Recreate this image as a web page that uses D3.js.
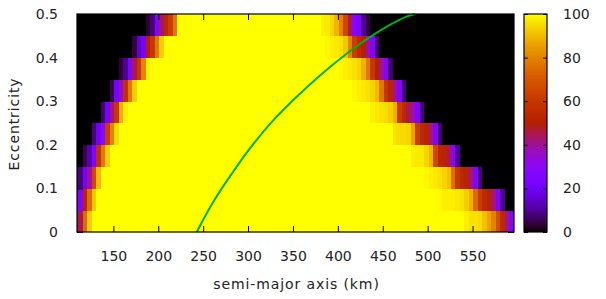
<!DOCTYPE html>
<html>
<head>
<meta charset="utf-8">
<script src="https://cdn.jsdelivr.net/npm/d3@7"></script>
<style>
body { margin: 0; background: #fff; }
svg text { font-family: "DejaVu Sans", sans-serif; font-size: 14px; fill: #222; }
</style>
</head>
<body>
<svg id="chart"></svg>
<script>
// eccentricity rows (lower edge of each band)
var eccRows = [0, 0.05, 0.1, 0.15, 0.2, 0.25, 0.3, 0.35, 0.4, 0.45]
var eccStep = 0.05

// semi-major axis cells, km
var firstEdge = 106
var cellWidth = 5
var cellCount = 98

// per row: where the rising edge starts, its values, where the falling edge ends, its values
var leftStart = [106, 106, 106, 116, 126, 136, 146, 156, 171, 186]
var leftRamp = [
    [45, 45, 75, 93],
    [25, 25, 52, 75, 92],
    [8, 8, 22, 40, 65, 90],
    [5, 12, 25, 58, 78, 93],
    [8, 20, 30, 62, 80, 95],
    [7, 22, 42, 60, 88, 98],
    [5, 22, 35, 58, 78, 93],
    [4, 10, 25, 45, 60, 80, 98],
    [4, 15, 22, 50, 60, 78, 93],
    [3, 8, 25, 43, 55, 62, 78]
]
var rightEnd = [596, 586, 561, 536, 516, 496, 476, 461, 446, 436]
var rightRamp = [
    [98, 96, 96, 95, 91, 86, 80, 68, 55, 42, 25],
    [99, 98, 98, 98, 97, 96, 93, 88, 75, 62, 55, 52, 42, 25, 10],
    [99, 98, 97, 96, 94, 91, 76, 60, 54, 52, 42, 25, 8],
    [98, 97, 97, 94, 89, 65, 53, 52, 45, 27, 10],
    [96, 95, 95, 94, 86, 62, 55, 52, 42, 25, 7],
    [98, 97, 96, 95, 93, 88, 62, 55, 45, 38, 25, 8],
    [99, 98, 97, 96, 94, 90, 78, 60, 53, 40, 25, 8],
    [99, 98, 97, 96, 94, 88, 78, 60, 50, 40, 25, 7],
    [99, 98, 97, 96, 92, 80, 62, 55, 50, 38, 26, 7],
    [98, 97, 94, 89, 80, 65, 45, 27, 24, 10, 4]
]

// green curve
var curveA = [243, 250, 261, 272, 284, 297, 313, 328, 347, 365.5, 384, 403, 421, 439.5, 458, 476.5, 486]
var curveE = [0, 0.028, 0.068, 0.104, 0.140, 0.178, 0.220, 0.256, 0.296, 0.332, 0.366, 0.398, 0.426, 0.452, 0.475, 0.494, 0.5]

var xTicks = [150, 200, 250, 300, 350, 400, 450, 500, 550]
var yTicks = [0, 0.1, 0.2, 0.3, 0.4, 0.5]
var cbTicks = [0, 20, 40, 60, 80, 100]

var screen = {width: 606, height: 299}
var plot = {left: 77, right: 514, top: 14, bottom: 232}
var bar = {left: 524, right: 547}

// gnuplot default palette (rgbformulae 7,5,15)
var palette = function(v)
{
    var t = Math.max(0, Math.min(1, v / 100))
    return d3.rgb(255 * Math.sqrt(t), 255 * t * t * t, 255 * Math.max(0, Math.sin(2 * Math.PI * t))).toString()
}

var buildRow = function(i)
{
    var ls = (leftStart[i] - firstEdge) / cellWidth
    var re = (rightEnd[i] - firstEdge) / cellWidth
    var rs = re - rightRamp[i].length
    var cells = []
    for (var j = 0; j < cellCount; j++)
    {
        var v = 100
        if (j < ls || j >= re) { v = 0 }
        else if (j < ls + leftRamp[i].length) { v = leftRamp[i][j - ls] }
        else if (j >= rs) { v = rightRamp[i][j - rs] }
        cells.push({a0: firstEdge + j * cellWidth, e0: eccRows[i], v: v})
    }
    return cells
}

var cells = []
eccRows.forEach(function(e, i) { cells = cells.concat(buildRow(i)) })

var svg = d3.select("#chart")
    .attr("width", screen.width)
    .attr("height", screen.height)

var xscale = d3.scaleLinear().domain([109.5, 595.6]).range([plot.left, plot.right - 0.5])
var yscale = d3.scaleLinear().domain([0, 0.5]).range([plot.bottom, plot.top])
var cscale = d3.scaleLinear().domain([0, 100]).range([plot.bottom, plot.top])

svg.append("clipPath").attr("id", "clip")
    .append("rect")
    .attr("x", plot.left).attr("y", plot.top)
    .attr("width", plot.right - plot.left).attr("height", plot.bottom - plot.top)

svg.append("g")
    .attr("clip-path", "url(#clip)")
    .selectAll("rect")
    .data(cells)
    .enter()
    .append("rect")
    .attr("x", function(c) { return xscale(c.a0) })
    .attr("y", function(c) { return yscale(c.e0 + eccStep) })
    .attr("width", function(c) { return xscale(c.a0 + cellWidth) - xscale(c.a0) + 0.4 })
    .attr("height", function(c) { return yscale(c.e0) - yscale(c.e0 + eccStep) + 0.4 })
    .attr("fill", function(c) { return palette(c.v) })
    .attr("shape-rendering", "crispEdges")

var line = d3.line()
    .curve(d3.curveCatmullRom)
    .x(function(d) { return xscale(d[0]) })
    .y(function(d) { return yscale(d[1]) })

svg.append("path")
    .datum(curveA.map(function(a, i) { return [a, curveE[i]] }))
    .attr("d", line)
    .attr("fill", "none")
    .attr("stroke", "#00b01a")
    .attr("stroke-width", 2)

// axes, gnuplot style: ticks inward and mirrored
var xAxisB = d3.axisBottom(xscale).tickValues(xTicks).tickSize(-6).tickPadding(19).tickFormat(d3.format("d"))
var xAxisT = d3.axisTop(xscale).tickValues(xTicks).tickSize(-6).tickFormat("")
var yAxisL = d3.axisLeft(yscale).tickValues(yTicks).tickSize(-6).tickPadding(19).tickFormat(function(d) { return d === 0 ? "0" : d3.format(".1f")(d) })
var yAxisR = d3.axisRight(yscale).tickValues(yTicks).tickSize(-6).tickFormat("")

var drawAxis = function(axis, tx, ty)
{
    var g = svg.append("g").attr("transform", "translate(" + tx + "," + ty + ")").call(axis)
    g.select(".domain").remove()
    g.selectAll("line").attr("stroke", "#000")
    g.selectAll("text").attr("font-size", null).attr("font-family", null)
    return g
}
drawAxis(xAxisB, 0, plot.bottom)
drawAxis(xAxisT, 0, plot.top)
drawAxis(yAxisL, plot.left, 0)
drawAxis(yAxisR, plot.right, 0)

svg.append("rect")
    .attr("x", plot.left).attr("y", plot.top)
    .attr("width", plot.right - plot.left).attr("height", plot.bottom - plot.top)
    .attr("fill", "none").attr("stroke", "#000").attr("stroke-width", 1.2)

// colour box
var grad = svg.append("defs").append("linearGradient")
    .attr("id", "cb").attr("x1", 0).attr("y1", 1).attr("x2", 0).attr("y2", 0)
d3.range(0, 101, 2).forEach(function(v)
{
    grad.append("stop").attr("offset", v + "%").attr("stop-color", palette(v))
})
svg.append("rect")
    .attr("x", bar.left).attr("y", plot.top)
    .attr("width", bar.right - bar.left).attr("height", plot.bottom - plot.top)
    .attr("fill", "url(#cb)").attr("stroke", "#000").attr("stroke-width", 1.2)

var cbL = d3.axisLeft(cscale).tickValues(cbTicks).tickSize(-4).tickFormat("")
var cbR = d3.axisRight(cscale).tickValues(cbTicks).tickSize(4).tickPadding(12).tickFormat(d3.format("d"))
drawAxis(cbL, bar.left, 0)
drawAxis(cbR, bar.right, 0).selectAll("line").attr("x2", -4)

svg.append("text")
    .attr("x", (plot.left + plot.right) / 2 + 1)
    .attr("y", 289)
    .attr("text-anchor", "middle")
    .style("letter-spacing", "0.9px")
    .text("semi-major axis (km)")

svg.append("text")
    .attr("transform", "translate(19," + ((plot.top + plot.bottom) / 2 + 1) + ") rotate(-90)")
    .attr("text-anchor", "middle")
    .style("letter-spacing", "0.9px")
    .text("Eccentricity")
</script>
</body>
</html>
